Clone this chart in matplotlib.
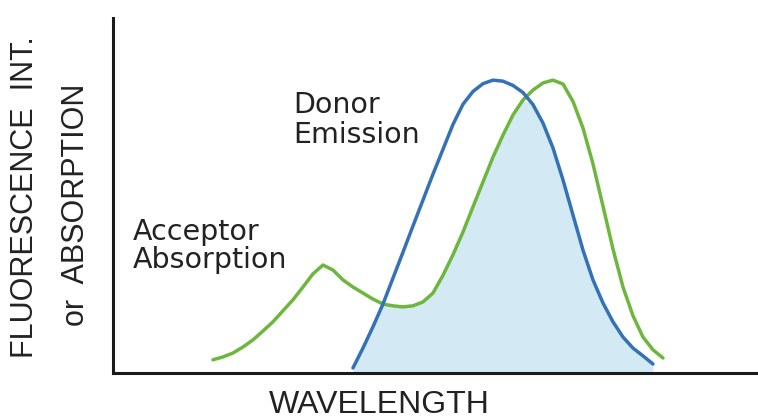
import numpy as np
import matplotlib.pyplot as plt

# wavelength in arbitrary units, intensity normalised to the axis height
wavelength = list(range(100, 551, 10))
acceptor_absorption = [0.037, 0.045, 0.056, 0.073, 0.093, 0.118, 0.144, 0.175, 0.206, 0.242,
                       0.279, 0.304, 0.290, 0.262, 0.242, 0.225, 0.208, 0.194, 0.189, 0.186,
                       0.189, 0.200, 0.225, 0.275, 0.333, 0.397, 0.468, 0.538, 0.608, 0.670,
                       0.727, 0.769, 0.797, 0.817, 0.825, 0.814, 0.765, 0.690, 0.589, 0.470,
                       0.349, 0.242, 0.161, 0.101, 0.065, 0.042]
donor_emission = [None] * 14 + [0.014, 0.070, 0.130, 0.194, 0.267, 0.340, 0.414, 0.487, 0.560, 0.630,
                                0.700, 0.757, 0.793, 0.815, 0.825, 0.822, 0.810, 0.790, 0.756, 0.704,
                                0.634, 0.544, 0.445, 0.346, 0.262, 0.197, 0.144, 0.101, 0.070, 0.048,
                                0.025] + [None]

x = np.array(wavelength, dtype=float)
acc = np.array(acceptor_absorption, dtype=float)
don = np.array([np.nan if v is None else v for v in donor_emission], dtype=float)

fig = plt.figure(figsize=(7.58, 4.19), dpi=100)
ax = fig.add_axes([0.149, 0.110, 0.851, 0.847])

# spectral overlap
overlap = np.minimum(acc, don)
ax.fill_between(x, 0, overlap, where=~np.isnan(overlap), color='#d3e9f3', lw=0)

ax.plot(x, acc, color='#6fb63f', lw=2.5, solid_capstyle='round', solid_joinstyle='round')
ax.plot(x, don, color='#3572b5', lw=2.5, solid_capstyle='round', solid_joinstyle='round')

ax.set_xlim(0, 645)
ax.set_ylim(0, 1)
ax.set_xticks([])
ax.set_yticks([])
for side in ['top', 'right']:
    ax.spines[side].set_visible(False)
for side in ['left', 'bottom']:
    ax.spines[side].set_linewidth(2.2)
    ax.spines[side].set_color('#1a1a1a')

note = dict(fontsize=20.5, family='DejaVu Sans', color='#222222', ha='left', va='baseline')
ax.text(180, 0.732, 'Donor', **note)
ax.text(180, 0.648, 'Emission', **note)
ax.text(20, 0.375, 'Acceptor', **note)
ax.text(20, 0.296, 'Absorption', **note)

fig.text(0.501, 0.033, 'WAVELENGTH', fontsize=23, family='Liberation Sans',
         color='#222222', ha='center', va='center')
fig.text(0.033, 0.530, 'FLUORESCENCE  INT.', fontsize=22, family='Liberation Sans',
         color='#222222', ha='center', va='center', rotation=90)
fig.text(0.100, 0.511, 'or  ABSORPTION', fontsize=22, family='Liberation Sans',
         color='#222222', ha='center', va='center', rotation=90)

fig.savefig('out.png', dpi=100)
